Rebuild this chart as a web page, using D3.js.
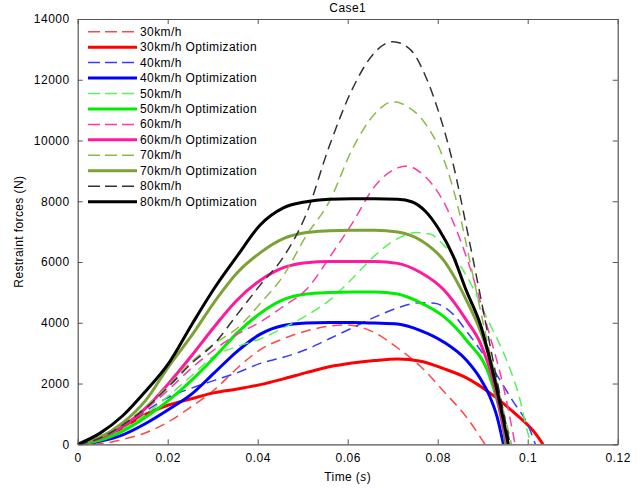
<!DOCTYPE html>
<html>
<head>
<meta charset="utf-8">
<script src="https://cdn.jsdelivr.net/npm/d3@7"></script>
<style>
  body { margin: 0; background: #fff; }
  text { font-family: "Liberation Sans", Arial, sans-serif; fill: #000; letter-spacing: 0.4px; }
</style>
</head>
<body>
<svg id="chart" width="640" height="488"></svg>
<script>
// values: [time (s), force (N)]
const s30 = [[0,0],[0.0049,20],[0.0100,160],[0.0151,380],[0.0202,740],[0.0253,1245],[0.0304,1800],[0.0355,2510],[0.0406,3120],[0.0457,3475],[0.0508,3730],[0.0559,3890],[0.0595,3930],[0.0630,3850],[0.0660,3675],[0.0711,3170],[0.0762,2560],[0.0813,1750],[0.0864,890],[0.0905,0]];
const s30o = [[0,0],[0.0049,160],[0.0100,545],[0.0151,990],[0.0202,1295],[0.0253,1500],[0.0304,1700],[0.0355,1820],[0.0406,1965],[0.0457,2155],[0.0508,2360],[0.0559,2550],[0.0610,2675],[0.0660,2755],[0.0711,2805],[0.0762,2735],[0.0813,2490],[0.0864,2185],[0.0915,1700],[0.0966,1090],[0.1017,360],[0.1034,0]];
const s40 = [[0,0],[0.0049,180],[0.0100,585],[0.0151,1090],[0.0202,1550],[0.0253,1850],[0.0304,2105],[0.0355,2360],[0.0406,2665],[0.0457,2865],[0.0508,3120],[0.0559,3475],[0.0610,3830],[0.0660,4185],[0.0711,4490],[0.0762,4660],[0.0793,4640],[0.0834,4285],[0.0864,3725],[0.0915,2665],[0.0966,1445],[0.1002,585],[0.1017,0]];
const s40o = [[0,0],[0.0049,100],[0.0100,310],[0.0151,685],[0.0202,1145],[0.0253,1650],[0.0304,2360],[0.0355,3070],[0.0406,3625],[0.0457,3910],[0.0508,3990],[0.0559,4010],[0.0610,4010],[0.0660,3990],[0.0711,3960],[0.0762,3745],[0.0813,3370],[0.0864,2765],[0.0895,2155],[0.0915,1600],[0.0932,900],[0.0946,0]];
const s50 = [[0,0],[0.0049,160],[0.0100,505],[0.0151,990],[0.0202,1600],[0.0253,2255],[0.0304,2915],[0.0355,3220],[0.0406,3475],[0.0457,3830],[0.0508,4235],[0.0559,4740],[0.0610,5450],[0.0660,6210],[0.0711,6770],[0.0752,6970],[0.0783,6920],[0.0813,6565],[0.0864,5550],[0.0915,3980],[0.0953,2775],[0.0983,1460],[0.0998,500],[0.1008,0]];
const s50o = [[0,0],[0.0049,130],[0.0100,435],[0.0151,890],[0.0202,1445],[0.0253,2105],[0.0304,2865],[0.0355,3675],[0.0406,4315],[0.0457,4760],[0.0508,4945],[0.0559,4995],[0.0610,5015],[0.0660,5015],[0.0711,4945],[0.0762,4660],[0.0813,4210],[0.0864,3425],[0.0915,2260],[0.0932,1450],[0.0943,750],[0.0951,0]];
const s60 = [[0,0],[0.0049,180],[0.0100,585],[0.0151,1145],[0.0202,1800],[0.0253,2510],[0.0304,3120],[0.0355,3625],[0.0406,4030],[0.0457,4540],[0.0508,5095],[0.0569,6360],[0.0610,7275],[0.0660,8490],[0.0711,9100],[0.0732,9160],[0.0762,8945],[0.0813,7985],[0.0864,6160],[0.0915,3625],[0.0946,1900],[0.0972,0]];
const s60o = [[0,0],[0.0049,200],[0.0100,585],[0.0151,1190],[0.0202,2005],[0.0253,2915],[0.0304,3880],[0.0355,4760],[0.0406,5400],[0.0457,5815],[0.0508,5980],[0.0559,6020],[0.0610,6020],[0.0660,6020],[0.0711,5955],[0.0762,5655],[0.0813,5095],[0.0864,4080],[0.0895,3320],[0.0925,2000],[0.0953,0]];
const s70 = [[0,0],[0.0049,200],[0.0100,635],[0.0151,1245],[0.0202,1955],[0.0253,2715],[0.0304,3320],[0.0355,3830],[0.0406,4640],[0.0457,5550],[0.0508,6870],[0.0559,7985],[0.0610,9710],[0.0660,10875],[0.0701,11280],[0.0732,11125],[0.0772,10570],[0.0813,9400],[0.0844,7880],[0.0874,5855],[0.0905,3725],[0.0935,1800],[0.0964,0]];
const s70o = [[0,0],[0.0049,230],[0.0100,705],[0.0151,1445],[0.0202,2560],[0.0253,3575],[0.0304,4690],[0.0355,5655],[0.0406,6310],[0.0457,6770],[0.0508,6970],[0.0559,7030],[0.0610,7050],[0.0660,7050],[0.0711,6990],[0.0762,6720],[0.0813,6060],[0.0864,4740],[0.0895,3725],[0.0925,2310],[0.0955,0]];
const s80 = [[0,0],[0.0049,200],[0.0100,635],[0.0151,1195],[0.0202,1900],[0.0253,2665],[0.0304,3320],[0.0355,4285],[0.0406,5250],[0.0457,6160],[0.0508,7580],[0.0559,9810],[0.0610,11685],[0.0660,12900],[0.0701,13255],[0.0742,12950],[0.0772,12150],[0.0803,10900],[0.0834,9250],[0.0864,7150],[0.0895,4870],[0.0925,2610],[0.0961,0]];
const s80o = [[0,0],[0.0049,360],[0.0100,940],[0.0151,1750],[0.0202,2665],[0.0253,3930],[0.0304,5145],[0.0355,6210],[0.0406,7225],[0.0457,7780],[0.0508,7985],[0.0559,8065],[0.0610,8085],[0.0660,8085],[0.0711,8065],[0.0742,7985],[0.0772,7680],[0.0803,7070],[0.0834,6210],[0.0864,5045],[0.0895,3935],[0.0930,1900],[0.0957,0]];

const seriesNames = ["30km/h", "30km/h Optimization", "40km/h", "40km/h Optimization",
  "50km/h", "50km/h Optimization", "60km/h", "60km/h Optimization",
  "70km/h", "70km/h Optimization", "80km/h", "80km/h Optimization"];
const seriesData = [s30, s30o, s40, s40o, s50, s50o, s60, s60o, s70, s70o, s80, s80o];
const seriesColors = ["#ff4848", "#ff0000", "#3a3aff", "#0000ff", "#5cf05c", "#00ee00",
  "#ff3aa8", "#ff1a9c", "#8cbb48", "#7ca236", "#333333", "#000000"];

const xTicks = [0, 0.02, 0.04, 0.06, 0.08, 0.1, 0.12];
const yTicks = [0, 2000, 4000, 6000, 8000, 10000, 12000, 14000];

const svg = d3.select("#chart");
const plotLeft = 77.7, plotRight = 617.7, plotTop = 19, plotBottom = 444.3;

const x = d3.scaleLinear().domain([0, 0.12]).range([plotLeft, plotRight]);
const y = d3.scaleLinear().domain([0, 14000]).range([plotBottom, plotTop]);

// title
svg.append("text")
    .attr("x", (plotLeft + plotRight) / 2).attr("y", 12)
    .attr("text-anchor", "middle")
    .style("font-size", "12px")
    .text("Case1");

// lines
svg.append("clipPath").attr("id", "clip")
    .append("rect").attr("x", plotLeft).attr("y", plotTop)
    .attr("width", plotRight - plotLeft).attr("height", plotBottom - plotTop);

const line = d3.line()
    .x(d => x(d[0]))
    .y(d => y(d[1]))
    .curve(d3.curveMonotoneX);

const plot = svg.append("g").attr("clip-path", "url(#clip)");
seriesData.forEach((data, i) => {
    const dashed = i % 2 === 0;
    plot.append("path")
        .datum(data)
        .attr("d", line)
        .attr("fill", "none")
        .attr("stroke", seriesColors[i])
        .attr("stroke-width", dashed ? 1.5 : 3)
        .attr("stroke-dasharray", dashed ? "10,6" : null)
        .attr("stroke-linejoin", "round");
});

// axes (matlab style box with inner ticks)
const axisColor = "#555";
const axBottom = svg.append("g").attr("transform", `translate(0,${plotBottom})`)
    .call(d3.axisBottom(x).tickValues(xTicks).tickSizeInner(-5).tickSizeOuter(0).tickPadding(9)
        .tickFormat(d => String(d)));
const axTop = svg.append("g").attr("transform", `translate(0,${plotTop})`)
    .call(d3.axisTop(x).tickValues(xTicks).tickSizeInner(-5).tickSizeOuter(0).tickFormat(""));
const axLeft = svg.append("g").attr("transform", `translate(${plotLeft},0)`)
    .call(d3.axisLeft(y).tickValues(yTicks).tickSizeInner(-5).tickSizeOuter(0).tickPadding(8)
        .tickFormat(d3.format("d")));
const axRight = svg.append("g").attr("transform", `translate(${plotRight},0)`)
    .call(d3.axisRight(y).tickValues(yTicks).tickSizeInner(-5).tickSizeOuter(0).tickFormat(""));

[axBottom, axTop, axLeft, axRight].forEach(g => {
    g.select(".domain").attr("stroke", axisColor).attr("stroke-width", 1.2);
    g.selectAll(".tick line").attr("stroke", axisColor);
    g.selectAll("text")
        .style("font-family", "'Liberation Sans', Arial, sans-serif")
        .style("font-size", "12px")
        .style("letter-spacing", "0.5px")
        .attr("fill", "#000");
});

// axis labels
const xLabel = svg.append("text")
    .attr("x", (plotLeft + plotRight) / 2).attr("y", 481)
    .attr("text-anchor", "middle")
    .style("font-size", "12px");
xLabel.append("tspan").text("Time (");
xLabel.append("tspan").style("font-style", "italic").text("s");
xLabel.append("tspan").text(")");

svg.append("text")
    .attr("transform", `translate(23,${(plotTop + plotBottom) / 2}) rotate(-90)`)
    .attr("text-anchor", "middle")
    .style("font-size", "12px")
    .text("Restraint forces (N)");

// legend
const legend = svg.append("g");
seriesNames.forEach((name, i) => {
    const dashed = i % 2 === 0;
    const ly = 31.7 + i * 15.45;
    legend.append("line")
        .attr("x1", 88).attr("x2", 137)
        .attr("y1", ly).attr("y2", ly)
        .attr("stroke", seriesColors[i])
        .attr("stroke-width", dashed ? 1.5 : 3)
        .attr("stroke-dasharray", dashed ? "12,5" : null);
    legend.append("text")
        .attr("x", 140).attr("y", ly + 4)
        .style("font-size", "12px")
        .text(name);
});
</script>
</body>
</html>
